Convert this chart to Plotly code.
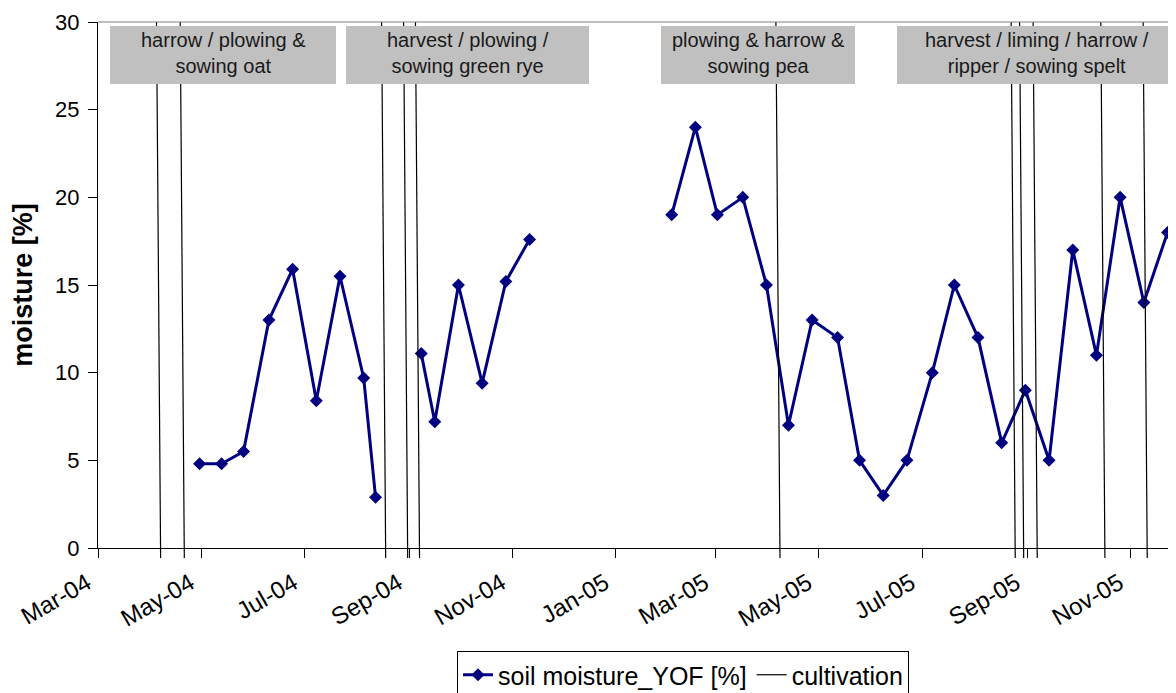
import plotly.graph_objects as go
import pandas as pd

# ---------------- data ----------------
moist_dates_a = ["2004-04-30", "2004-05-13", "2004-05-26", "2004-06-10", "2004-06-24",
                 "2004-07-08", "2004-07-22", "2004-08-05", "2004-08-12"]
moist_vals_a = [4.8, 4.8, 5.5, 13.0, 15.9, 8.4, 15.5, 9.7, 2.9]

moist_dates_b = ["2004-09-08", "2004-09-16", "2004-09-30", "2004-10-14", "2004-10-28",
                 "2004-11-11"]
moist_vals_b = [11.1, 7.2, 15.0, 9.4, 15.2, 17.6]

moist_dates_c = ["2005-02-03", "2005-02-17", "2005-03-02", "2005-03-17", "2005-03-31",
                 "2005-04-13", "2005-04-27", "2005-05-12", "2005-05-25", "2005-06-08",
                 "2005-06-22", "2005-07-07", "2005-07-20", "2005-08-03", "2005-08-17",
                 "2005-08-31", "2005-09-14", "2005-09-28", "2005-10-12", "2005-10-26",
                 "2005-11-09", "2005-11-23"]
moist_vals_c = [19, 24, 19, 20, 15, 7, 13, 12, 5, 3, 5, 10, 15, 12, 6, 9, 5, 17, 11, 20, 14, 18]

cultivation_dates = ["2004-04-07", "2004-04-21", "2004-08-18", "2004-08-31", "2004-09-07",
                     "2005-04-08", "2005-08-25", "2005-08-30", "2005-09-07", "2005-10-17",
                     "2005-11-11"]
cultivation_top = 30

box_texts = ["harrow / plowing &<br>sowing oat",
             "harvest / plowing /<br>sowing green rye",
             "plowing & harrow &<br>sowing pea",
             "harvest / liming / harrow /<br>ripper / sowing spelt"]

series_name = "soil moisture_YOF [%]"
cult_name = "cultivation"
y_title = "moisture [%]"

# ---------------- layout geometry ----------------
# the page body has a default 8px margin, so figure pixels = screen pixels - OFF
OFF = 8
W, H = 1176, 693
L, R, T, B = 98 - OFF, 8, 22 - OFF, 693 - (558 - OFF)
plot_w = W - L - R
plot_h = H - T - B
axis_px = 548 - OFF
y_dom0 = (H - B - axis_px) / plot_h
y2_low = -30 * (H - B - axis_px) / (axis_px - T)

x_start = pd.Timestamp("2004-03-01")
x_end = x_start + pd.Timedelta(days=637)
slant = pd.Timedelta(hours=58)

FONT = "Arial, Liberation Sans, sans-serif"
NAVY = "#000080"

def px_x(p):
    return (p - OFF - L) / plot_w

def px_y(p):
    return (H - B - (p - OFF)) / plot_h

# ---------------- traces ----------------
mx, my = [], []
for ds, vs in [(moist_dates_a, moist_vals_a), (moist_dates_b, moist_vals_b),
               (moist_dates_c, moist_vals_c)]:
    mx += list(pd.to_datetime(ds)) + [None]
    my += list(vs) + [None]

cx, cy = [], []
for d in pd.to_datetime(cultivation_dates):
    cx += [d, d - slant, None]
    cy += [y2_low, cultivation_top, None]

fig = go.Figure()
fig.add_trace(go.Scatter(
    x=cx, y=cy, mode="lines", name=cult_name, xaxis="x", yaxis="y2",
    line=dict(color="black", width=1.2), legendrank=2, hoverinfo="skip"))
fig.add_trace(go.Scatter(
    x=mx, y=my, mode="lines+markers", name=series_name, xaxis="x", yaxis="y",
    line=dict(color=NAVY, width=3),
    marker=dict(symbol="diamond", size=10, color=NAVY), legendrank=1))

shapes = [dict(type="line", xref="paper", yref="paper", x0=0, x1=1, y0=px_y(22), y1=px_y(22),
               line=dict(color="#808080", width=1), layer="above")]
box_px = [(110, 336), (346, 589), (661, 855), (897, 1176)]
annotations = []
for (a, b), txt in zip(box_px, box_texts):
    shapes.append(dict(type="rect", xref="paper", yref="paper",
                       x0=px_x(a), x1=px_x(b), y0=px_y(84), y1=px_y(26),
                       fillcolor="#C0C0C0", line=dict(width=0), layer="above"))
    annotations.append(dict(xref="paper", yref="paper", x=px_x((a + b) / 2), y=px_y(53),
                            text=txt, showarrow=False, xanchor="center", yanchor="middle",
                            font=dict(family=FONT, size=20, color="#1a1a1a")))

fig.update_layout(
    width=W, height=H,
    margin=dict(l=L, r=R, t=T, b=B, autoexpand=False),
    paper_bgcolor="white", plot_bgcolor="rgba(0,0,0,0)",
    font=dict(family=FONT, color="black"),
    showlegend=True,
    legend=dict(orientation="h", x=px_x(683), xanchor="center", y=px_y(651), yanchor="top",
                bordercolor="black", borderwidth=1, bgcolor="white",
                font=dict(family=FONT, size=25, color="black"),
                itemwidth=30, tracegroupgap=0),
    xaxis=dict(type="date", range=[x_start, x_end], tick0="2004-03-01", dtick="M2",
               tickformat="%b-%y", ticks="outside", ticklen=9, tickwidth=1, tickcolor="black",
               showline=True, linecolor="black", linewidth=1, showgrid=False, zeroline=False,
               tickangle=-30, tickfont=dict(family=FONT, size=24, color="black"),
               ticklabelshift=-11, ticklabelstandoff=2,
               anchor="y"),
    xaxis2=dict(type="date", range=[x_start, x_end], overlaying="x", anchor="y",
                tick0="2004-03-01", dtick="M1", ticks="inside", ticklen=7, tickwidth=1,
                tickcolor="black", showticklabels=False, showline=False, showgrid=False,
                zeroline=False),
    yaxis=dict(domain=[y_dom0, 1], range=[0, 30], dtick=5, ticks="outside", ticklen=9,
               tickwidth=1, tickcolor="black", showline=True, linecolor="black", linewidth=1,
               showgrid=False, zeroline=False,
               tickfont=dict(family=FONT, size=22, color="black"),
               ticklabelstandoff=4,
               title=dict(text="<b>" + y_title + "</b>", standoff=18,
                          font=dict(family=FONT, size=27, color="black")),
               anchor="x"),
    yaxis2=dict(domain=[0, 1], range=[y2_low, 30], visible=False, anchor="x"),
    shapes=shapes, annotations=annotations,
)

fig.write_html("out.html")
